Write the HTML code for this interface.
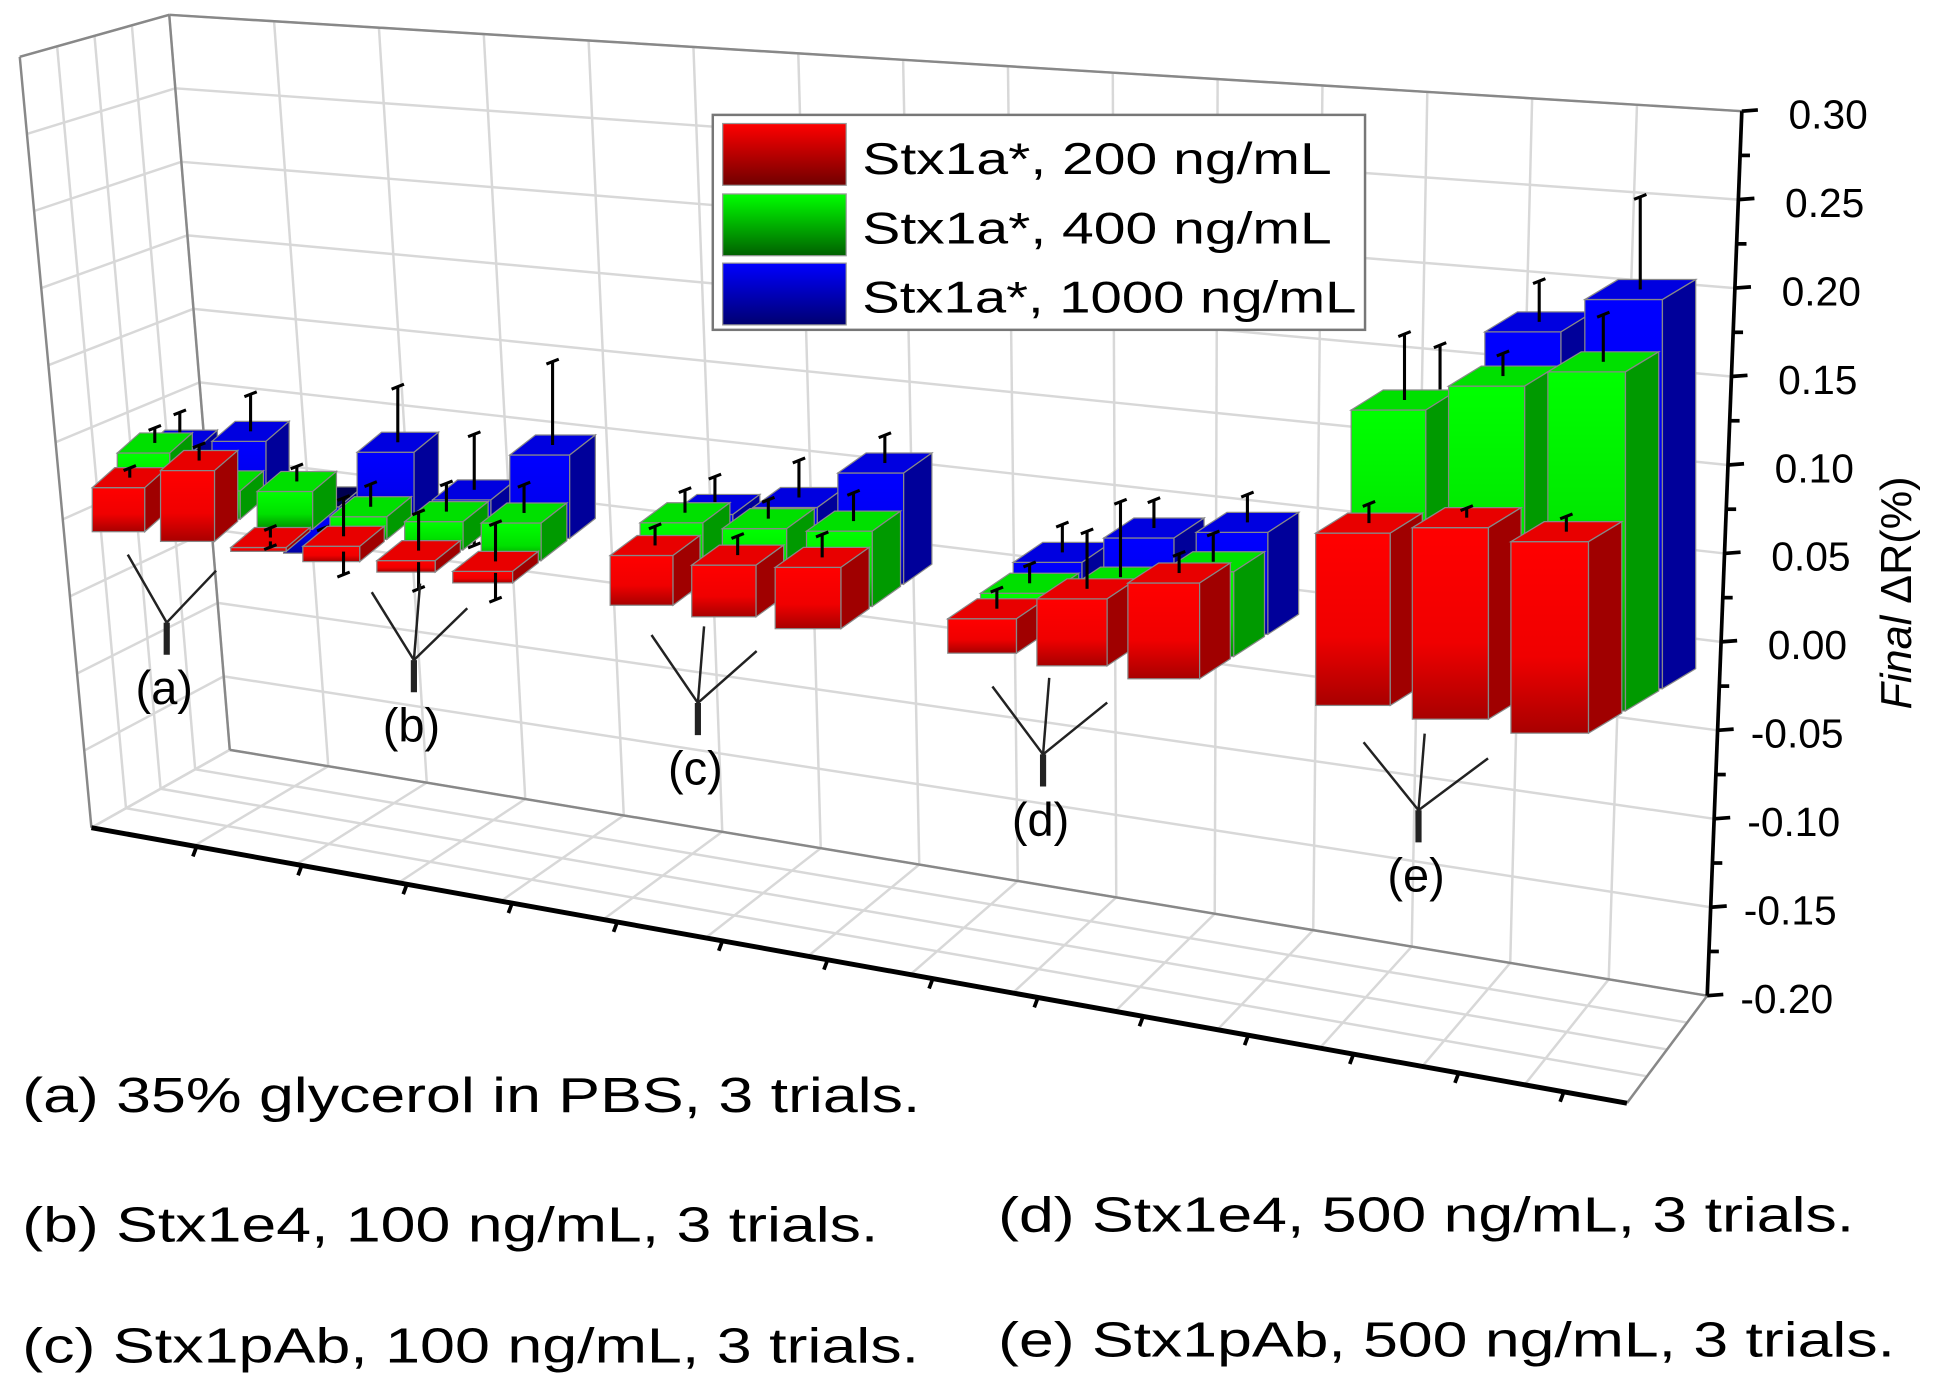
<!DOCTYPE html>
<html><head><meta charset="utf-8"><style>
html,body{margin:0;padding:0;background:#fff;}
svg{display:block;}
text{font-family:"Liberation Sans",Arial,sans-serif;}
</style></head><body>
<svg id="chart" xmlns="http://www.w3.org/2000/svg" width="1937" height="1391" viewBox="0 0 1568 1126" preserveAspectRatio="none">
<defs>
<linearGradient id="gR" x1="0" y1="0" x2="0" y2="1"><stop offset="0" stop-color="#ff0000"/><stop offset="0.6" stop-color="#f00000"/><stop offset="1" stop-color="#a80000"/></linearGradient>
<linearGradient id="gG" x1="0" y1="0" x2="0" y2="1"><stop offset="0" stop-color="#00ff00"/><stop offset="0.6" stop-color="#00e000"/><stop offset="1" stop-color="#009000"/></linearGradient>
<linearGradient id="gB" x1="0" y1="0" x2="0" y2="1"><stop offset="0" stop-color="#0000ff"/><stop offset="0.6" stop-color="#0000f0"/><stop offset="1" stop-color="#0000a0"/></linearGradient>
<linearGradient id="lR" x1="0" y1="0" x2="0" y2="1"><stop offset="0" stop-color="#ff0000"/><stop offset="1" stop-color="#700000"/></linearGradient>
<linearGradient id="lG" x1="0" y1="0" x2="0" y2="1"><stop offset="0" stop-color="#00ff00"/><stop offset="1" stop-color="#006000"/></linearGradient>
<linearGradient id="lB" x1="0" y1="0" x2="0" y2="1"><stop offset="0" stop-color="#0000ff"/><stop offset="1" stop-color="#000070"/></linearGradient>
</defs>
<g id="grid"></g>
<g id="axes"></g>
<g id="bars"></g>
<g id="markers"></g>

<g>
  <rect x="577" y="93" width="528" height="174" fill="#fff" stroke="#777" stroke-width="2"/>
  <rect x="585" y="100" width="100" height="50" fill="url(#lR)" stroke="#999"/>
  <rect x="585" y="157" width="100" height="50" fill="url(#lG)" stroke="#999"/>
  <rect x="585" y="213" width="100" height="50" fill="url(#lB)" stroke="#999"/>
  <text x="698" y="141" font-size="36" textLength="380" lengthAdjust="spacingAndGlyphs">Stx1a*, 200 ng/mL</text>
  <text x="698" y="197" font-size="36" textLength="380" lengthAdjust="spacingAndGlyphs">Stx1a*, 400 ng/mL</text>
  <text x="698" y="253" font-size="36" textLength="400" lengthAdjust="spacingAndGlyphs">Stx1a*, 1000 ng/mL</text>
</g>

<text transform="translate(1547,480) rotate(-90)" text-anchor="middle" font-size="35"><tspan font-style="italic">Final</tspan> ΔR(%)</text>

<g font-size="40">
  <text x="18" y="900" textLength="727" lengthAdjust="spacingAndGlyphs">(a) 35% glycerol in PBS, 3 trials.</text>
  <text x="18" y="1005" textLength="693" lengthAdjust="spacingAndGlyphs">(b) Stx1e4, 100 ng/mL, 3 trials.</text>
  <text x="18" y="1103" textLength="726" lengthAdjust="spacingAndGlyphs">(c) Stx1pAb, 100 ng/mL, 3 trials.</text>
  <text x="808" y="997" textLength="693" lengthAdjust="spacingAndGlyphs">(d) Stx1e4, 500 ng/mL, 3 trials.</text>
  <text x="808" y="1098" textLength="726" lengthAdjust="spacingAndGlyphs">(e) Stx1pAb, 500 ng/mL, 3 trials.</text>
</g>
</svg>
<script>
const categories = ["a1","a2","a3","b1","b2","b3","c1","c2","c3","d1","d2","d3","e1","e2","e3"];
const slots = [1,2,3,4,5,6,8,9,10,12,13,14,16,17,18];
const red200 = [0.023,0.037,0.002, 0.008,0.006,0.006, 0.026,0.027,0.032, 0.018,0.035,0.05, 0.09,0.10,0.10];
const green400 = [0.03,0.015,0.02, 0.012,0.015,0.02, 0.032,0.035,0.04, 0.02,0.03,0.045, 0.145,0.165,0.18];
const blue1000 = [0.02,0.03,-0.025, 0.035,0.015,0.045, 0.025,0.035,0.06, 0.025,0.045,0.055, 0.135,0.185,0.21];
const redErr = [0.005,0.008,0.005, 0.02,0.02,0.02, 0.01,0.01,0.012, 0.01,0.03,0.01, 0.01,0.005,0.008];
const greenErr = [0.008,0.008,0.008, 0.012,0.015,0.015, 0.012,0.01,0.015, 0.01,0.04,0.015, 0.035,0.012,0.025];
const blueErr = [0.015,0.02,0.008, 0.03,0.03,0.045, 0.015,0.02,0.015, 0.015,0.015,0.015, 0.03,0.022,0.05];
const yTicks = [0.30,0.25,0.20,0.15,0.10,0.05,0.00,-0.05,-0.10,-0.15,-0.20];
const yTickLabels = ["0.30","0.25","0.20","0.15","0.10","0.05","0.00","-0.05","-0.10","-0.15","-0.20"];
const groupLabels = ["(a)","(b)","(c)","(d)","(e)"];

const NS="http://www.w3.org/2000/svg";
function mk(tag, attrs, parent){const e=document.createElementNS(NS,tag);for(const k in attrs)e.setAttribute(k,attrs[k]);parent.appendChild(e);return e;}
const lerp=(a,b,t)=>[a[0]+(b[0]-a[0])*t,a[1]+(b[1]-a[1])*t];
const TL=[137,12],TR=[1410,90],BR=[1382,806],BL=[186,607],FR=[1317,893],FL=[74,670],LT=[16,46];
const vMin=-0.2,vMax=0.3;
const tOf=v=>(v-vMin)/(vMax-vMin);
const wall=(u,t)=>lerp(lerp(BL,BR,u),lerp(TL,TR,u),t);

// grid
const grid=document.getElementById('grid');
const gs={stroke:"#d8d8d8","stroke-width":2,fill:"none"};
const NU=15;
for(let i=0;i<=NU;i++){const u=i/NU;const a=wall(u,0),b=wall(u,1);
  const l=mk('line',Object.assign({x1:a[0],y1:a[1],x2:b[0],y2:b[1]},gs),grid);
  
  
  const f=lerp(FL,FR,u);
  const l2=mk('line',Object.assign({x1:a[0],y1:a[1],x2:f[0],y2:f[1]},gs),grid);
  
  }
yTicks.forEach(v=>{const t=tOf(v);const a=wall(0,t),b=wall(1,t);
  const l=mk('line',Object.assign({x1:a[0],y1:a[1],x2:b[0],y2:b[1]},gs),grid);
  
  
  const c=lerp(FL,LT,t);
  const l2=mk('line',Object.assign({x1:a[0],y1:a[1],x2:c[0],y2:c[1]},gs),grid);
  
  });
for(let j=1;j<4;j++){const d=j/4;const a=lerp(BL,FL,d),b=lerp(BR,FR,d);
  const l=mk('line',Object.assign({x1:a[0],y1:a[1],x2:b[0],y2:b[1]},gs),grid);
  
  
  const c=lerp(TL,LT,d);
  const l2=mk('line',Object.assign({x1:a[0],y1:a[1],x2:c[0],y2:c[1]},gs),grid);
  
  }
const frame=[[TL,BL],[BL,BR],[TL,LT],[LT,FL],[BR,FR],[TL,TR]];
frame.forEach(p=>{const l=mk('line',{x1:p[0][0],y1:p[0][1],x2:p[1][0],y2:p[1][1],stroke:"#888","stroke-width":2},grid);
  
  });

// axes
const axes=document.getElementById('axes');
const ya=mk('line',{x1:TR[0],y1:TR[1],x2:BR[0],y2:BR[1],stroke:"#000","stroke-width":3},axes);


for(let i=0;i<yTicks.length;i++){const t=tOf(yTicks[i]);const p=wall(1,t);
  const tk=mk('line',{x1:p[0],y1:p[1],x2:p[0]+13,y2:p[1]-1,stroke:"#000","stroke-width":3},axes);
  
  
  if(i<yTicks.length-1){const q=wall(1,tOf(yTicks[i]-0.025));
    const mt=mk('line',{x1:q[0],y1:q[1],x2:q[0]+8,y2:q[1],stroke:"#000","stroke-width":3},axes);
    
    }
  const tx=mk('text',{x:p[0]+102,y:p[1]+14,"text-anchor":"end","font-size":33},axes);
  tx.textContent=yTickLabels[i];
  
  }
const xa=mk('line',{x1:FL[0],y1:FL[1],x2:FR[0],y2:FR[1],stroke:"#000","stroke-width":4},axes);


for(let i=1;i<15;i++){const p=lerp(FL,FR,i/14.6);
  const tk=mk('line',{x1:p[0],y1:p[1],x2:p[0]-3,y2:p[1]+8,stroke:"#000","stroke-width":3},axes);
  
  }

// bar projection
const Xs=p=>20.9+53*p+0.766*p*p;
const slope=p=>53+1.53*p;
const bars=document.getElementById('bars');
const series=[{v:red200,e:redErr,f:"url(#gR)",top:"#e80000",side:"#a00000",name:"red-200"},
              {v:green400,e:greenErr,f:"url(#gG)",top:"#00e000",side:"#009a00",name:"green-400"},
              {v:blue1000,e:blueErr,f:"url(#gB)",top:"#0000e0",side:"#00009a",name:"blue-1000"}];
function bar(i,r){
  const s=series[r];const p=slots[i];const sl=slope(p);
  const rdx=26*sl/70, rdy=-18;
  const x=Xs(p)+rdx*r;
  const y0=435+0.142*(Xs(p)-107)+rdy*r;
  const k=1550-25*r;
  const v=s.v[i];
  const yv=y0-k*v;
  const yt=Math.min(y0,yv), yb=Math.max(y0,yv);
  const w=0.78*sl, dx=0.9*rdx, dy=0.9*rdy;
  const g=mk('g',{},bars);
  
  
  mk('rect',{x:x,y:yt,width:w,height:Math.max(yb-yt,1.5),fill:s.f,stroke:"#888","stroke-width":1},g);
  mk('polygon',{points:`${x},${yt} ${x+w},${yt} ${x+w+dx},${yt+dy} ${x+dx},${yt+dy}`,fill:v<0?"#000050":s.top,stroke:"#888","stroke-width":1},g);
  mk('polygon',{points:`${x+w},${yt} ${x+w+dx},${yt+dy} ${x+w+dx},${yb+dy} ${x+w},${yb}`,fill:s.side,stroke:"#888","stroke-width":1},g);
  const cx=x+w/2+dx/2, cy=yv+dy/2, e=s.e[i];
  const eg=mk('g',{stroke:"#000","stroke-width":2.5},g);
  
  
  const up=cy-k*e;
  mk('line',{x1:cx,y1:cy,x2:cx,y2:up},eg);
  mk('line',{x1:cx-5,y1:up+2,x2:cx+5,y2:up-2},eg);
  if(v-e<0){const lo=cy+k*e; const base=Math.max(y0+dy/2,cy);
    if(lo>base){mk('line',{x1:cx,y1:base,x2:cx,y2:lo},eg);mk('line',{x1:cx-5,y1:lo+2,x2:cx+5,y2:lo-2},eg);}}
}
for(let r=2;r>=0;r--)for(let i=0;i<categories.length;i++)bar(i,r);

// group markers
const mg=document.getElementById('markers');
for(let g=0;g<5;g++){
  const p=slots[g*3+1];const sl=slope(p);
  const cx=Xs(p)+(g==1?30:5);
  const jy=445+0.142*(cx-107)+55+g*2;
  const grp=mk('g',{stroke:"#222","stroke-width":2},mg);
  
  
  const sp=sl*0.75;
  mk('line',{x1:cx-sp*0.75,y1:jy-55,x2:cx,y2:jy},grp);
  if(g>0) mk('line',{x1:cx+5,y1:jy-62,x2:cx,y2:jy},grp);
  mk('line',{x1:cx+sp*0.95,y1:jy-42,x2:cx,y2:jy},grp);
  mk('line',{x1:cx,y1:jy,x2:cx,y2:jy+26,"stroke-width":5},grp);
  const t=mk('text',{x:cx-2,y:jy+66,"text-anchor":"middle","font-size":38,stroke:"none",fill:"#000"},mg);
  t.textContent=groupLabels[g];
  
  
}
</script>
</body></html>
